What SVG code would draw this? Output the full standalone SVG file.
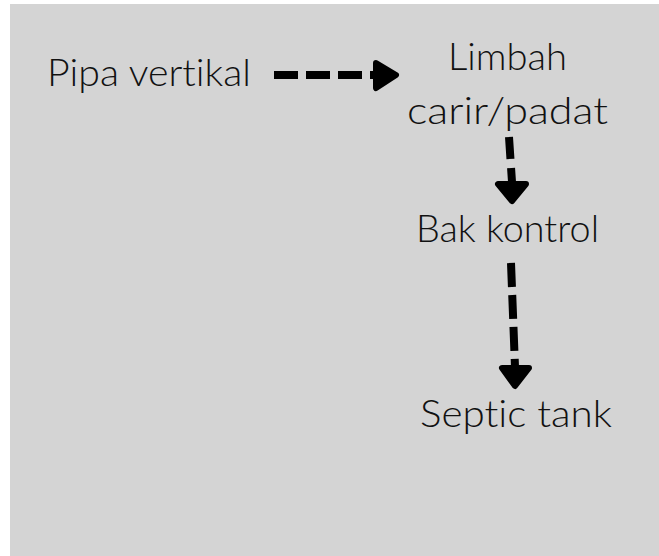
<svg xmlns="http://www.w3.org/2000/svg" width="659" height="556" viewBox="0 0 659 556">
<style>
.t{font-family:Lato,"Liberation Sans",sans-serif;font-size:37px;font-weight:300;fill:#111;font-variant-ligatures:none}
.d{stroke:#000;stroke-width:8;fill:none}
.h{fill:#000;stroke:#000;stroke-width:6;stroke-linejoin:round}
</style>
<rect x="0" y="0" width="659" height="556" fill="#fff"/>
<rect x="10" y="4" width="649" height="552" fill="#d4d4d4"/>
<g id="connectors">
<line class="d" x1="274" y1="75" x2="377" y2="75" stroke-dasharray="24 8"/>
<polygon class="h" points="376,63 396,75 376,88"/>
<line class="d" x1="509" y1="137" x2="512" y2="182" stroke-dasharray="22 9"/>
<polygon class="h" points="498,184 526,184 512,201"/>
<line class="d" x1="511" y1="263" x2="515" y2="367" stroke-dasharray="24 8"/>
<polygon class="h" points="502,368 529,368 515,386"/>
</g>
<g id="pipa"><text class="t" x="47" y="86" textLength="204" lengthAdjust="spacingAndGlyphs">Pipa vertikal</text></g>
<g id="limbah"><text class="t" x="448" y="70" textLength="119" lengthAdjust="spacingAndGlyphs">Limbah</text>
<text class="t" x="407" y="124" textLength="201" lengthAdjust="spacingAndGlyphs">carir/padat</text></g>
<g id="bak"><text class="t" x="416" y="242" textLength="183" lengthAdjust="spacingAndGlyphs">Bak kontrol</text></g>
<g id="septic"><text class="t" x="420" y="427" textLength="192" lengthAdjust="spacingAndGlyphs">Septic tank</text></g>
</svg>
